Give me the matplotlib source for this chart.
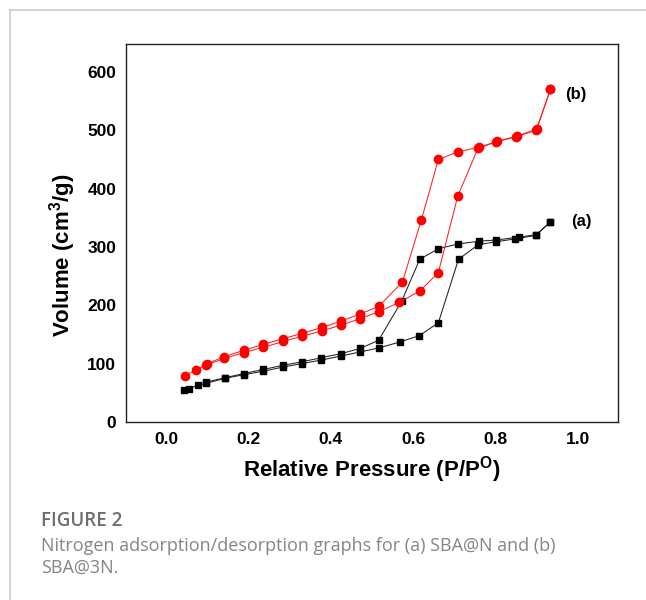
import matplotlib
matplotlib.use("Agg")
import matplotlib.pyplot as plt
from matplotlib.lines import Line2D

# (a) SBA@N - adsorption / desorption
p_a_ads = [0.044, 0.056, 0.077, 0.096, 0.144, 0.189, 0.236, 0.283, 0.329, 0.376, 0.424,
           0.471, 0.517, 0.567, 0.615, 0.661, 0.710, 0.758, 0.802, 0.848, 0.898, 0.933]
v_a_ads = [55, 57, 63, 66, 75, 81, 87, 94, 100, 106, 113,
           120, 127, 137, 148, 170, 279, 304, 309, 314, 320, 343]
p_a_des = [0.933, 0.898, 0.857, 0.802, 0.760, 0.708, 0.661, 0.616, 0.572, 0.516,
           0.471, 0.424, 0.376, 0.329, 0.283, 0.236, 0.189, 0.144, 0.096]
v_a_des = [343, 321, 317, 312, 310, 305, 297, 279, 207, 140,
           126, 117, 110, 103, 97, 90, 83, 76, 68]

# (b) SBA@3N - adsorption / desorption
p_b_ads = [0.046, 0.072, 0.096, 0.142, 0.189, 0.236, 0.285, 0.331, 0.378, 0.425, 0.471,
           0.517, 0.566, 0.617, 0.661, 0.708, 0.757, 0.801, 0.849, 0.898, 0.933]
v_b_ads = [79, 89, 97, 109, 119, 128, 138, 147, 156, 166, 177,
           189, 205, 225, 256, 387, 469, 480, 489, 500, 570]
p_b_des = [0.933, 0.900, 0.851, 0.803, 0.760, 0.708, 0.661, 0.620, 0.574, 0.516,
           0.471, 0.425, 0.378, 0.331, 0.285, 0.236, 0.189, 0.142, 0.100]
v_b_des = [570, 502, 490, 481, 471, 463, 450, 347, 240, 198,
           185, 173, 162, 152, 143, 133, 123, 112, 100]

x_ticks = [0.0, 0.2, 0.4, 0.6, 0.8, 1.0]
y_ticks = [0, 100, 200, 300, 400, 500, 600]

plt.rcParams["font.family"] = ["Liberation Sans", "DejaVu Sans"]
plt.rcParams["mathtext.fontset"] = "custom"
plt.rcParams["mathtext.rm"] = "Liberation Sans:bold"
plt.rcParams["mathtext.bf"] = "Liberation Sans:bold"

fig = plt.figure(figsize=(6.46, 6.0), dpi=100)
ax = fig.add_axes([0.195, 0.2967, 0.7617, 0.63])

ax.plot(p_a_ads, v_a_ads, color="#222222", lw=0.75, marker="s", ms=5, mfc="black", mec="black")
ax.plot(p_a_des, v_a_des, color="#222222", lw=0.75, marker="s", ms=5, mfc="black", mec="black")
ax.plot(p_b_ads, v_b_ads, color="#ff2020", lw=0.75, marker="o", ms=6, mfc="#ff0000", mec="#ff0000")
ax.plot(p_b_des, v_b_des, color="#ff2020", lw=0.75, marker="o", ms=6, mfc="#ff0000", mec="#ff0000")

ax.text(0.995, 561, "(b)", fontsize=12, fontweight="bold", ha="center", va="center")
ax.text(1.007, 343, "(a)", fontsize=12, fontweight="bold", ha="center", va="center")

ax.set_xlim(-0.097, 1.097)
ax.set_ylim(0, 648)
ax.set_xticks(x_ticks)
ax.set_xticklabels([f"{t:.1f}" for t in x_ticks])
ax.set_yticks(y_ticks)
ax.tick_params(length=0, labelsize=12.5, pad=7)
for lab in ax.get_xticklabels() + ax.get_yticklabels():
    lab.set_fontweight("bold")
for sp in ax.spines.values():
    sp.set_linewidth(1.0)
    sp.set_color("#222222")

ax.set_xlabel(r"Relative Pressure (P/P$^{\mathbf{O}}$)", fontsize=16, fontweight="bold")
ax.set_ylabel(r"Volume (cm$^{\mathbf{3}}$/g)", fontsize=16, fontweight="bold")
ax.xaxis.set_label_coords(0.5, -0.085)
ax.yaxis.set_label_coords(-0.098, 0.44)

# page frame
fig.add_artist(Line2D([9.5 / 646, 9.5 / 646], [0, 1 - 10 / 600], color="#cccccc", lw=1.2))
fig.add_artist(Line2D([9.5 / 646, 1], [1 - 10 / 600, 1 - 10 / 600], color="#cccccc", lw=1.2))

cap_font = ["Open Sans", "DejaVu Sans"]
fig.text(41 / 646, 1 - 521 / 600, "FIGURE 2", fontsize=13.5, fontweight="semibold",
         color="#6e6e6e", family=cap_font, va="center")
fig.text(41 / 646, 1 - 546 / 600, "Nitrogen adsorption/desorption graphs for (a) SBA@N and (b)",
         fontsize=13, color="#858585", family=cap_font, va="center")
fig.text(41 / 646, 1 - 568 / 600, "SBA@3N.",
         fontsize=13, color="#858585", family=cap_font, va="center")

fig.savefig("out.png", dpi=100, facecolor="white")
plt.close(fig)
